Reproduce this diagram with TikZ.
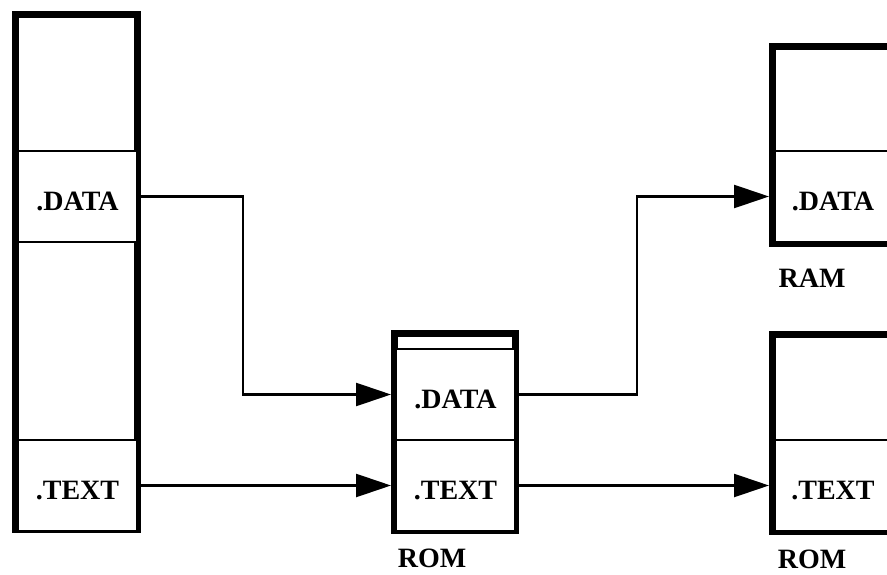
\documentclass[tikz,border=0pt]{standalone}
\usepackage{fontspec}
\setmainfont{Liberation Serif}
\usetikzlibrary{arrows.meta}
\begin{document}
\begin{tikzpicture}[x=1pt,y=-1pt,
  box/.style={draw, line width=7pt, rectangle, inner sep=0pt, minimum width=121pt, minimum height=197pt},
  cell/.style={draw, fill=white, line width=2.6pt, rectangle, inner sep=0pt, minimum width=119pt, minimum height=91pt, text height=28pt, text depth=0pt, font=\fontsize{28}{30}\selectfont\bfseries},
  lbl/.style={inner sep=0pt, font=\fontsize{28}{30}\selectfont\bfseries},
  conn/.style={line width=2.4pt, -{Triangle[length=35pt,width=23pt]}}]
\fill[white] (0,0) rectangle (887,575);
\clip (0,0) rectangle (887,575);
% left column
\node[box, minimum width=122pt, minimum height=515pt] (lcol) at (76.5,272) {};
\node[cell] (ldata) at (77.5,196.5) {.DATA};
\node[cell] (ltext) at (77.5,485.5) {.TEXT};
% middle ROM
\node[box] (mid) at (455,432) {};
\node[cell] (mdata) at (455.5,394.5) {.DATA};
\node[cell] (mtext) at (455.5,485.5) {.TEXT};
\node[lbl] (mlbl) at (432,558) {ROM};
% right RAM
\node[box] (ram) at (833,145) {};
\node[cell, minimum width=116pt] (rdata) at (833,196.5) {.DATA};
\node[lbl] (ramlbl) at (812,278) {RAM};
% right ROM
\node[box] (rrom) at (833,433) {};
\node[cell, minimum width=116pt] (rtext) at (833,485.5) {.TEXT};
\node[lbl] (romlbl) at (812,559) {ROM};
% connectors
\coordinate (j1) at (243,0);
\coordinate (j2) at (637,0);
\draw[conn] (ldata.east) -- (ldata.east -| j1) |- (mid.west |- mdata.center);
\draw[conn] (ltext.east) -- (mid.west |- ltext.center);
\draw[conn] (mdata.east) -- (mdata.east -| j2) |- (ram.west |- rdata.center);
\draw[conn] (mtext.east) -- (rrom.west |- rtext.center);
\end{tikzpicture}
\end{document}
